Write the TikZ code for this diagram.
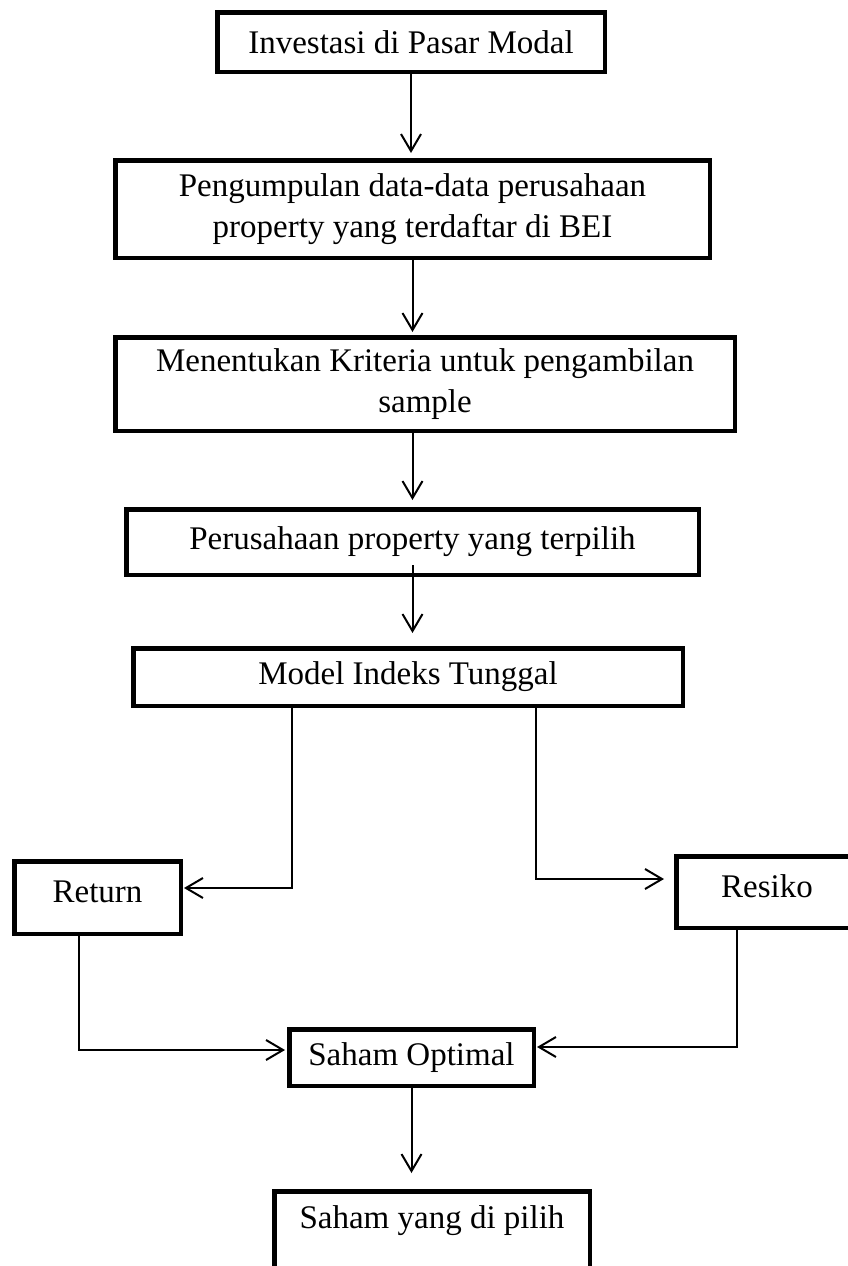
\documentclass[tikz,border=0pt]{standalone}
\usepackage{fontspec}
\setmainfont{Liberation Serif}
\usepackage{tikz}
\usetikzlibrary{arrows.meta,calc,positioning}
\tikzset{
  kotak/.style={
    draw,
    line width=4.5pt,
    inner sep=0pt,
    align=center,
    font=\fontsize{33}{41}\selectfont
  },
  arrow/.style={
    -{Straight Barb[length=17pt,width=20pt]},
    line width=2pt,
    shorten >=4pt
  }
}

\begin{document}
\begin{tikzpicture}[x=1pt,y=-1pt]
\useasboundingbox (0,0) rectangle (848,1266);
\node[kotak, minimum width=387.5pt, minimum height=59.5pt] (a) at (411,42) {Investasi di Pasar Modal};
\node[kotak, minimum width=594.5pt, minimum height=97.5pt, below=84pt of a, xshift=1.5pt] (b) {Pengumpulan data-data perusahaan\\property yang terdaftar di BEI};
\node[kotak, minimum width=619.5pt, minimum height=93.5pt, below=75pt of b, xshift=12.5pt] (c) {Menentukan Kriteria untuk pengambilan\\sample};
\node[kotak, minimum width=572.5pt, minimum height=65.5pt, below=74pt of c, xshift=-12.5pt] (d) {Perusahaan property yang terpilih};
\node[kotak, minimum width=549.5pt, minimum height=57.5pt, below=69pt of d, xshift=-4.5pt] (e) {Model Indeks Tunggal};
\node[kotak, minimum width=166.5pt, text height=40.75pt, text depth=31.75pt, anchor=base] (f) at (97.5,902) {Return};
\node[kotak, minimum width=181.5pt, text height=40.75pt, text depth=30.75pt, anchor=base] (g) at (767,897) {Resiko};
\node[kotak, minimum width=244.5pt, minimum height=56.5pt, below=319pt of e, xshift=3.5pt] (h) {Saham Optimal};
\node[kotak, minimum width=315.5pt, text height=37pt, text depth=60pt, below=101pt of h, xshift=20.5pt] (i) {Saham yang di pilih};
\draw[arrow, shorten >=5pt] (a.south) -- (a.south |- b.north);
\draw[arrow, shorten >=3pt] (b.south) -- (b.south |- c.north);
\draw[arrow, shorten >=7pt] (d.north |- c.south) -- (d.north);
\draw[arrow, shorten >=13pt] ($(d.south)+(0,-12)$) -- (d.south |- e.north);
\draw[arrow, shorten >=1pt] ($(e.south)+(-116,0)$) |- ($(f.east)+(0,-9.5)$);
\draw[arrow, shorten >=10pt] ($(e.south)+(128,0)$) |- ($(g.west)+(0,-13)$);
\draw[arrow, shorten >=2pt] ($(f.south)+(-18.5,0)$) |- ($(h.west)+(0,-7.5)$);
\draw[arrow, shorten >=1pt] ($(g.south)+(-30,0)$) |- ($(h.east)+(0,-10.5)$);
\draw[arrow, shorten >=16pt] (h.south) -- (h.south |- i.north);
\end{tikzpicture}
\end{document}
